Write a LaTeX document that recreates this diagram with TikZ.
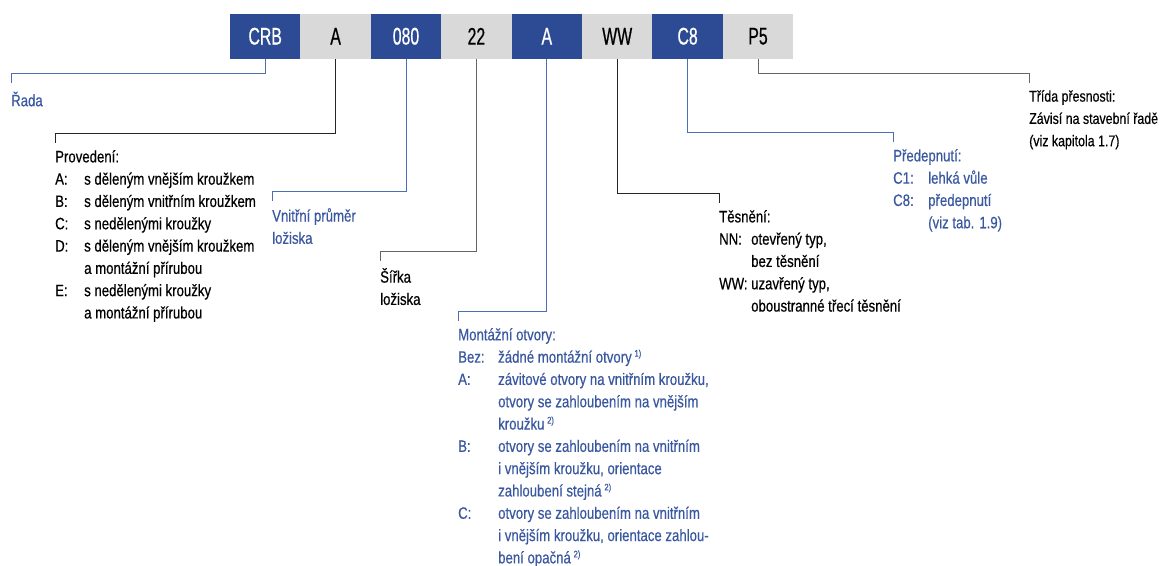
\documentclass[tikz,border=0pt]{standalone}
\usepackage{fontspec}
\setmainfont{Liberation Sans}[FakeStretch=0.8, FakeBold=0.5]
\newfontfamily\boxfont{Liberation Sans}[FakeStretch=0.66, FakeBold=0.6]
\usepackage{tikz}
\usetikzlibrary{positioning}

\definecolor{codeblue}{HTML}{2C4B94}
\definecolor{textblue}{HTML}{3A58A0}
\definecolor{lineblue}{HTML}{4D6DB5}
\definecolor{codegray}{HTML}{D9D9D9}

\tikzset{
  codebox/.style={minimum width=70.4pt, minimum height=44.5pt, inner sep=0pt, outer sep=0pt,
    font=\boxfont\fontsize{24}{24}\selectfont},
  bluebox/.style={codebox, fill=codeblue, text=white},
  graybox/.style={codebox, fill=codegray, text=black},
  legend/.style={anchor=north west, align=left, inner sep=0pt,
    font=\fontsize{16.5}{22.3}\selectfont, execute at begin node={\rule{0pt}{16pt}}},
  bluelegend/.style={legend, text=textblue},
  blueline/.style={draw=lineblue, line width=1pt},
  darkline/.style={draw=black!85, line width=1pt},
  grayline/.style={draw=black!60, line width=1pt},
}
\newcommand{\key}[2]{\makebox[#1][l]{#2}}
\newcommand{\fnote}[1]{\,{\fontsize{9.5}{9.5}\selectfont\raisebox{6pt}{#1}}}

\begin{document}
\begin{tikzpicture}[x=1pt, y=-1pt]
\useasboundingbox (0,0) rectangle (1164,565);

%Nodes
\node[bluebox, anchor=north west] (crb) at (230,14) {CRB};
\node[graybox, right=0pt of crb]   (prov)  {A};
\node[bluebox, right=0pt of prov]  (dia)   {080};
\node[graybox, right=0pt of dia]   (sir)   {22};
\node[bluebox, right=0pt of sir]   (otv)   {A};
\node[graybox, right=0pt of otv]   (tes)   {WW};
\node[bluebox, right=0pt of tes]   (pred)  {C8};
\node[graybox, right=0pt of pred]  (tr)    {P5};

%Ends
\coordinate (radaend) at (11,83);
\coordinate (provend) at (55,143);
\coordinate (diaend)  at (272,201);
\coordinate (sirend)  at (380,261);
\coordinate (otvend)  at (458,321);
\coordinate (tesend)  at (719,203);
\coordinate (predend) at (893,142);
\coordinate (trend)   at (1029,83);

%Legends
\node[bluelegend] (rada) at ([yshift=-7pt]radaend) {Řada};
\node[legend] (provtxt) at ([yshift=-7pt]provend) {Provedení:\\
  \key{29pt}{A:}s děleným vnějším kroužkem\\
  \key{29pt}{B:}s děleným vnitřním kroužkem\\
  \key{29pt}{C:}s nedělenými kroužky\\
  \key{29pt}{D:}s děleným vnějším kroužkem\\
  \key{29pt}{}a montážní přírubou\\
  \key{29pt}{E:}s nedělenými kroužky\\
  \key{29pt}{}a montážní přírubou};
\node[bluelegend] (diatxt) at ([yshift=-7pt]diaend) {Vnitřní průměr\\ložiska};
\node[legend] (sirtxt) at ([yshift=-7pt]sirend) {Šířka\\ložiska};
\node[bluelegend] (otvtxt) at ([yshift=-7pt]otvend) {Montážní otvory:\\
  \key{40pt}{Bez:}žádné montážní otvory\fnote{1)}\\
  \key{40pt}{A:}závitové otvory na vnitřním kroužku,\\
  \key{40pt}{}otvory se zahloubením na vnějším\\
  \key{40pt}{}kroužku\fnote{2)}\\
  \key{40pt}{B:}otvory se zahloubením na vnitřním\\
  \key{40pt}{}i vnějším kroužku, orientace\\
  \key{40pt}{}zahloubení stejná\fnote{2)}\\
  \key{40pt}{C:}otvory se zahloubením na vnitřním\\
  \key{40pt}{}i vnějším kroužku, orientace zahlou-\\
  \key{40pt}{}bení opačná\fnote{2)}};
\node[legend] (testxt) at ([yshift=-7pt]tesend) {Těsnění:\\
  \key{32pt}{NN:}otevřený typ,\\
  \key{32pt}{}bez těsnění\\
  \key{32pt}{WW:}uzavřený typ,\\
  \key{32pt}{}oboustranné třecí těsnění};
\node[bluelegend] (predtxt) at ([yshift=-7pt]predend) {Předepnutí:\\
  \key{35pt}{C1:}lehká vůle\\
  \key{35pt}{C8:}předepnutí\\
  \key{35pt}{}(viz tab. 1.9)};
\node[legend, font=\fontsize{15.5}{22.3}\selectfont] (trtxt) at ([yshift=-7pt]trend) {Třída přesnosti:\\
  Závisí na stavební řadě\\
  (viz kapitola 1.7)};

%Lines
\draw[blueline] (crb.south)  |- ([yshift=9.5pt]radaend) -- (radaend);
\draw[darkline] (prov.south) |- ([yshift=9.5pt]provend) -- (provend);
\draw[blueline] (dia.south)  |- ([yshift=9.5pt]diaend)  -- (diaend);
\draw[grayline] (sir.south)  |- ([yshift=9.5pt]sirend)  -- (sirend);
\draw[blueline] (otv.south)  |- ([yshift=9.5pt]otvend)  -- (otvend);
\draw[darkline] (tes.south)  |- ([yshift=9.5pt]tesend)  -- (tesend);
\draw[blueline] (pred.south) |- ([yshift=9.5pt]predend) -- (predend);
\draw[grayline] (tr.south)   |- ([yshift=9.5pt]trend)   -- (trend);
\end{tikzpicture}
\end{document}
